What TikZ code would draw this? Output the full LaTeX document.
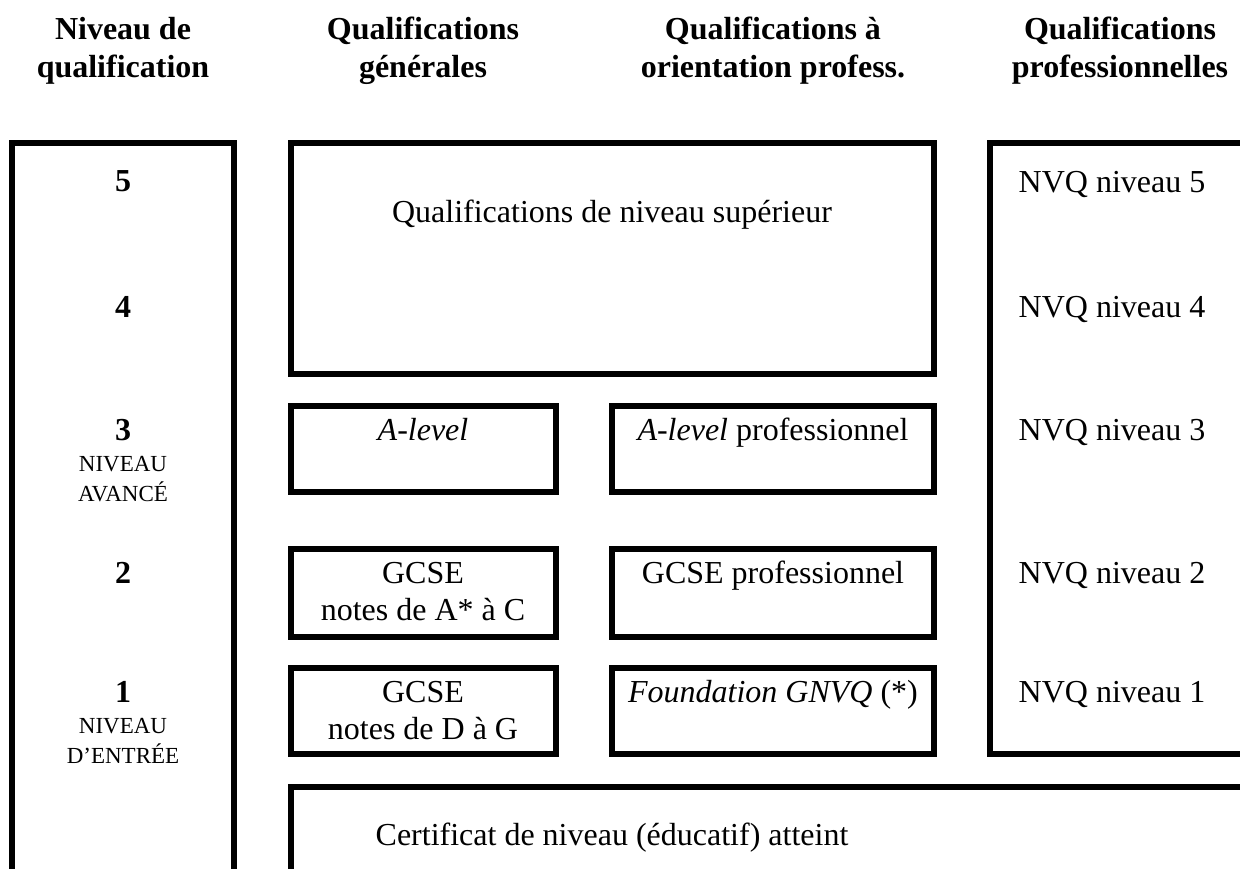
\documentclass[tikz,border=0pt]{standalone}
\usepackage{fontspec}
\setmainfont{Liberation Serif}
\begin{document}
\begin{tikzpicture}[x=1pt,y=-1pt,
  box/.style={line width=6pt},
  lbl/.style={font=\fontsize{32}{37}\selectfont, inner sep=0pt, anchor=base},
  lblb/.style={font=\fontsize{32}{37}\selectfont\bfseries, inner sep=0pt, anchor=base},
  hdr/.style={font=\fontsize{32}{38}\selectfont\bfseries, inner sep=0pt, align=center},
  sm/.style={font=\fontsize{23}{28}\selectfont, inner sep=0pt, anchor=base}]
\useasboundingbox (0,0) rectangle (1240,868);
\clip (0,0) rectangle (1240,868);
% headers
\node[hdr] (h1) at (123,51) {Niveau de\\qualification};
\node[hdr] (h2) at (423,51) {Qualifications\\générales};
\node[hdr] (h3) at (773,51) {Qualifications à\\orientation profess.};
\node[hdr] (h4) at (1120,51) {Qualifications\\professionnelles};
% boxes
\draw[box] (12,143) rectangle (234,900);
\draw[box] (291,143) rectangle (934,374);
\draw[box] (291,406) rectangle (556,492);
\draw[box] (612,406) rectangle (934,492);
\draw[box] (291,549) rectangle (556,637);
\draw[box] (612,549) rectangle (934,637);
\draw[box] (291,668) rectangle (556,754);
\draw[box] (612,668) rectangle (934,754);
\draw[box] (990,143) rectangle (1300,754);
\draw[box] (291,787) rectangle (1300,900);
% level column
\node[lblb] (l5) at (123,191) {5};
\node[lblb] (l4) at (123,317) {4};
\node[lblb] (l3) at (123,440) {3};
\node[sm] (l3a) at (123,471) {NIVEAU};
\node[sm] (l3b) at (123,501) {AVANCÉ};
\node[lblb] (l2) at (123,583) {2};
\node[lblb] (l1) at (123,702) {1};
\node[sm] (l1a) at (123,733) {NIVEAU};
\node[sm] (l1b) at (123,763) {D’ENTRÉE};
% general / vocational
\node[lbl] (sup) at (612,222) {Qualifications de niveau supérieur};
\node[lbl] (alev) at (423,440) {\itshape A-level};
\node[lbl] (alevp) at (773,440) {\textit{A-level} professionnel};
\node[lbl] (gcse1a) at (423,583) {GCSE};
\node[lbl] (gcse1b) at (423,620) {notes de A* à C};
\node[lbl] (gcsep) at (773,583) {GCSE professionnel};
\node[lbl] (gcse2a) at (423,702) {GCSE};
\node[lbl] (gcse2b) at (423,739) {notes de D à G};
\node[lbl] (fgnvq) at (773,702) {\textit{Foundation GNVQ} (*)};
% NVQ
\node[lbl] (n5) at (1112,192) {NVQ niveau 5};
\node[lbl] (n4) at (1112,317) {NVQ niveau 4};
\node[lbl] (n3) at (1112,440) {NVQ niveau 3};
\node[lbl] (n2) at (1112,583) {NVQ niveau 2};
\node[lbl] (n1) at (1112,702) {NVQ niveau 1};
% certificate
\node[lbl] (cert) at (612,845) {Certificat de niveau (éducatif) atteint};
\end{tikzpicture}
\end{document}
